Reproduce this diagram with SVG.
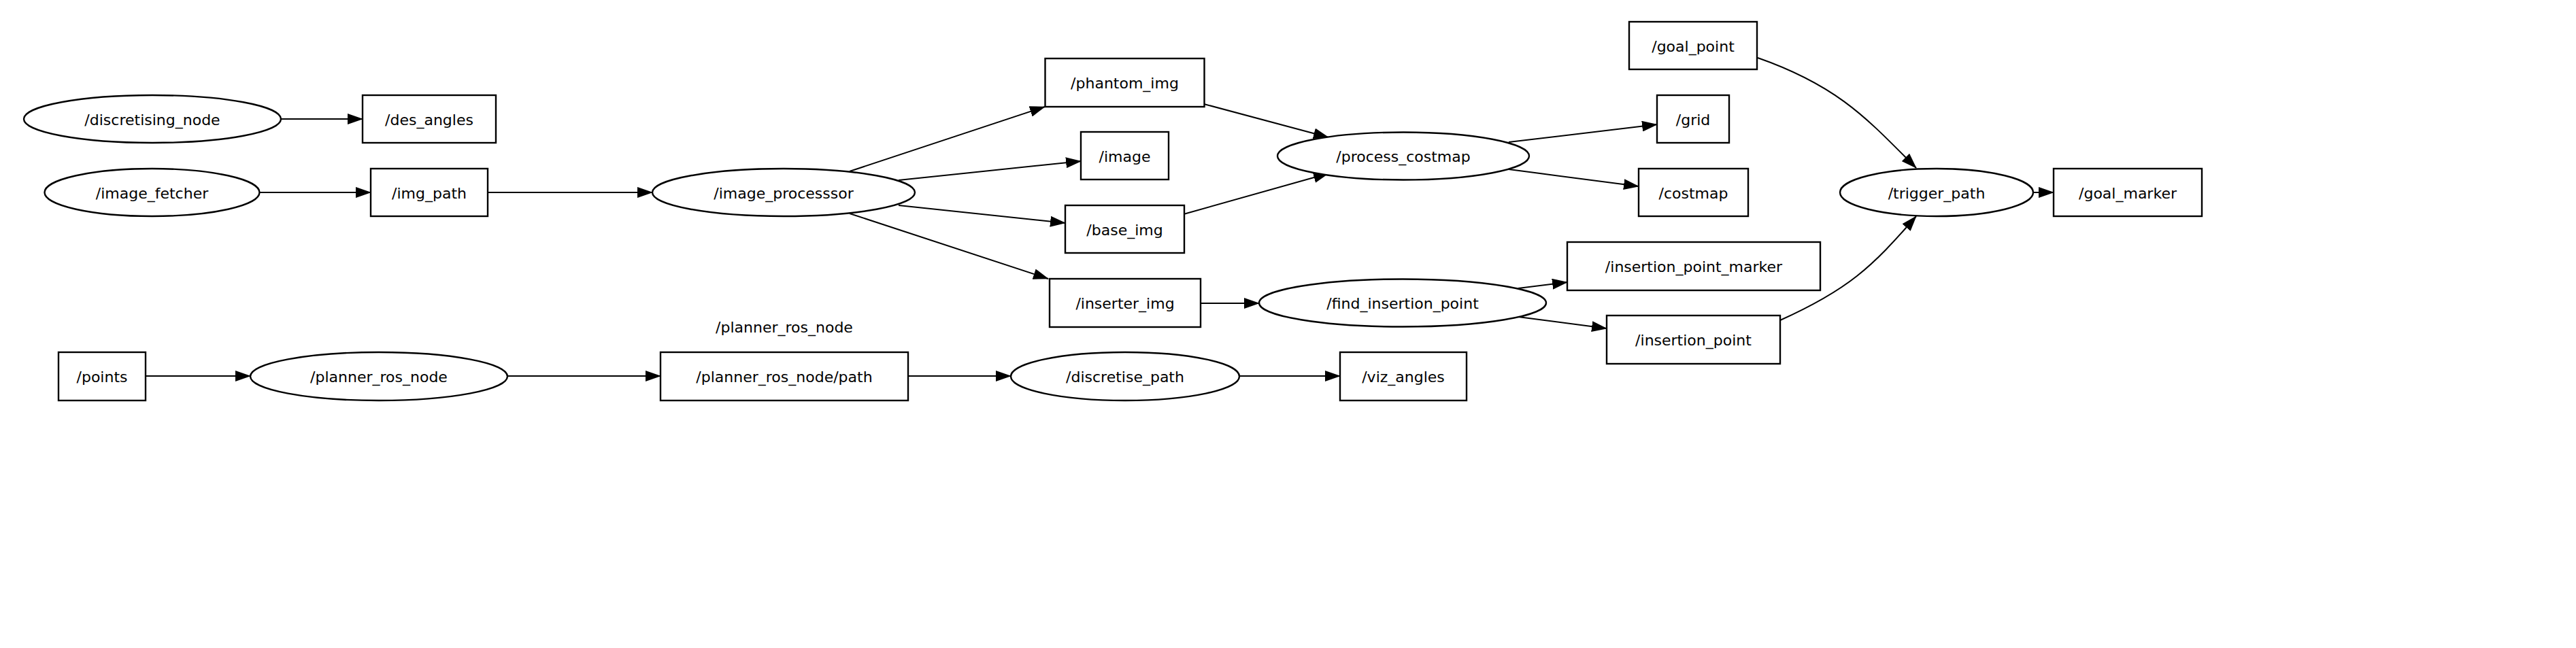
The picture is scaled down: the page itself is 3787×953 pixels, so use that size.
<svg xmlns="http://www.w3.org/2000/svg" width="3787" height="953" viewBox="0 0 3787 953">
<style>
  .node ellipse, .node rect { fill: #ffffff; stroke: #000000; stroke-width: 2.4; }
  text { font-family: "DejaVu Sans", "Liberation Sans", sans-serif; font-size: 22px; fill: #000000; text-anchor: middle; }
  #edges path { fill: none; stroke: #000000; stroke-width: 2; marker-end: url(#arrow); }
</style>
<defs>
  <marker id="arrow" markerUnits="userSpaceOnUse" viewBox="0 0 23 16" refX="22" refY="8" markerWidth="23" markerHeight="16" orient="auto">
    <path d="M0,0 L23,8 L0,16 z" fill="#000000"/>
  </marker>
</defs>
<rect x="0" y="0" width="3787" height="953" fill="#ffffff"/>

<g id="edges">
  <path d="M413,175 L533,175"/>
  <path d="M381,283 L545,283"/>
  <path d="M717,283 L959,283"/>
  <path d="M1249,252 L1536,157"/>
  <path d="M1321,265 L1589,237"/>
  <path d="M1321,302 L1566,328"/>
  <path d="M1249,314 L1541,410"/>
  <path d="M1770,153 L1953,202"/>
  <path d="M1740,315 L1953,255"/>
  <path d="M1765,446 L1851,446"/>
  <path d="M2218,209 L2436,183"/>
  <path d="M2218,249 L2409,274"/>
  <path d="M2232,424 L2304,415"/>
  <path d="M2232,466 L2362,483"/>
  <path d="M2584,85 C2704,127 2747,177 2817,247"/>
  <path d="M2617,471 C2717,426 2752,393 2817,318"/>
  <path d="M2989,283 L3019,283"/>
  <path d="M214,553 L368,553"/>
  <path d="M746,553 L971,553"/>
  <path d="M1335,553 L1486,553"/>
  <path d="M1822,553 L1970,553"/>
</g>

<g id="discretising_node" class="node"><ellipse cx="224" cy="175" rx="189" ry="35"/><text x="224" y="183.5">/discretising_node</text></g>
<g id="des_angles" class="node"><rect x="533" y="140" width="196" height="70"/><text x="631" y="183.5">/des_angles</text></g>
<g id="image_fetcher" class="node"><ellipse cx="223.5" cy="283" rx="158" ry="35"/><text x="223.5" y="291.5">/image_fetcher</text></g>
<g id="img_path" class="node"><rect x="545" y="248" width="172" height="70"/><text x="631" y="291.5">/img_path</text></g>
<g id="image_processsor" class="node"><ellipse cx="1152" cy="283" rx="193" ry="35"/><text x="1152" y="291.5">/image_processsor</text></g>
<g id="phantom_img" class="node"><rect x="1536.5" y="86" width="234" height="71"/><text x="1653.5" y="130">/phantom_img</text></g>
<g id="image" class="node"><rect x="1589" y="194" width="129" height="70"/><text x="1653.5" y="237.5">/image</text></g>
<g id="base_img" class="node"><rect x="1566" y="302" width="175" height="70"/><text x="1653.5" y="345.5">/base_img</text></g>
<g id="inserter_img" class="node"><rect x="1543" y="410" width="222" height="71"/><text x="1654" y="454">/inserter_img</text></g>
<g id="process_costmap" class="node"><ellipse cx="2063" cy="229.5" rx="185" ry="35"/><text x="2063" y="238">/process_costmap</text></g>
<g id="goal_point" class="node"><rect x="2395" y="32" width="188" height="70"/><text x="2489" y="75.5">/goal_point</text></g>
<g id="grid" class="node"><rect x="2436" y="140" width="106" height="70"/><text x="2489" y="183.5">/grid</text></g>
<g id="costmap" class="node"><rect x="2409" y="248" width="161" height="70"/><text x="2489.5" y="291.5">/costmap</text></g>
<g id="insertion_point_marker" class="node"><rect x="2304" y="356" width="372" height="71"/><text x="2490" y="400">/insertion_point_marker</text></g>
<g id="find_insertion_point" class="node"><ellipse cx="2062" cy="445.5" rx="211" ry="35"/><text x="2062" y="454">/find_insertion_point</text></g>
<g id="insertion_point" class="node"><rect x="2362" y="464" width="255" height="71"/><text x="2489.5" y="508">/insertion_point</text></g>
<g id="trigger_path" class="node"><ellipse cx="2847" cy="283" rx="142" ry="35"/><text x="2847" y="291.5">/trigger_path</text></g>
<g id="goal_marker" class="node"><rect x="3019" y="248" width="218" height="70"/><text x="3128" y="291.5">/goal_marker</text></g>
<g id="points" class="node"><rect x="86" y="518" width="128" height="71"/><text x="150" y="562">/points</text></g>
<g id="planner_ros_node" class="node"><ellipse cx="557" cy="553.5" rx="189" ry="35.5"/><text x="557" y="562">/planner_ros_node</text></g>
<g id="planner_ros_node_ns"><text x="1153" y="488.5">/planner_ros_node</text></g>
<g id="planner_ros_node_path" class="node"><rect x="971" y="518" width="364" height="71"/><text x="1153" y="562">/planner_ros_node/path</text></g>
<g id="discretise_path" class="node"><ellipse cx="1654" cy="553.5" rx="168" ry="35.5"/><text x="1654" y="562">/discretise_path</text></g>
<g id="viz_angles" class="node"><rect x="1970" y="518" width="186" height="71"/><text x="2063" y="562">/viz_angles</text></g>
</svg>
